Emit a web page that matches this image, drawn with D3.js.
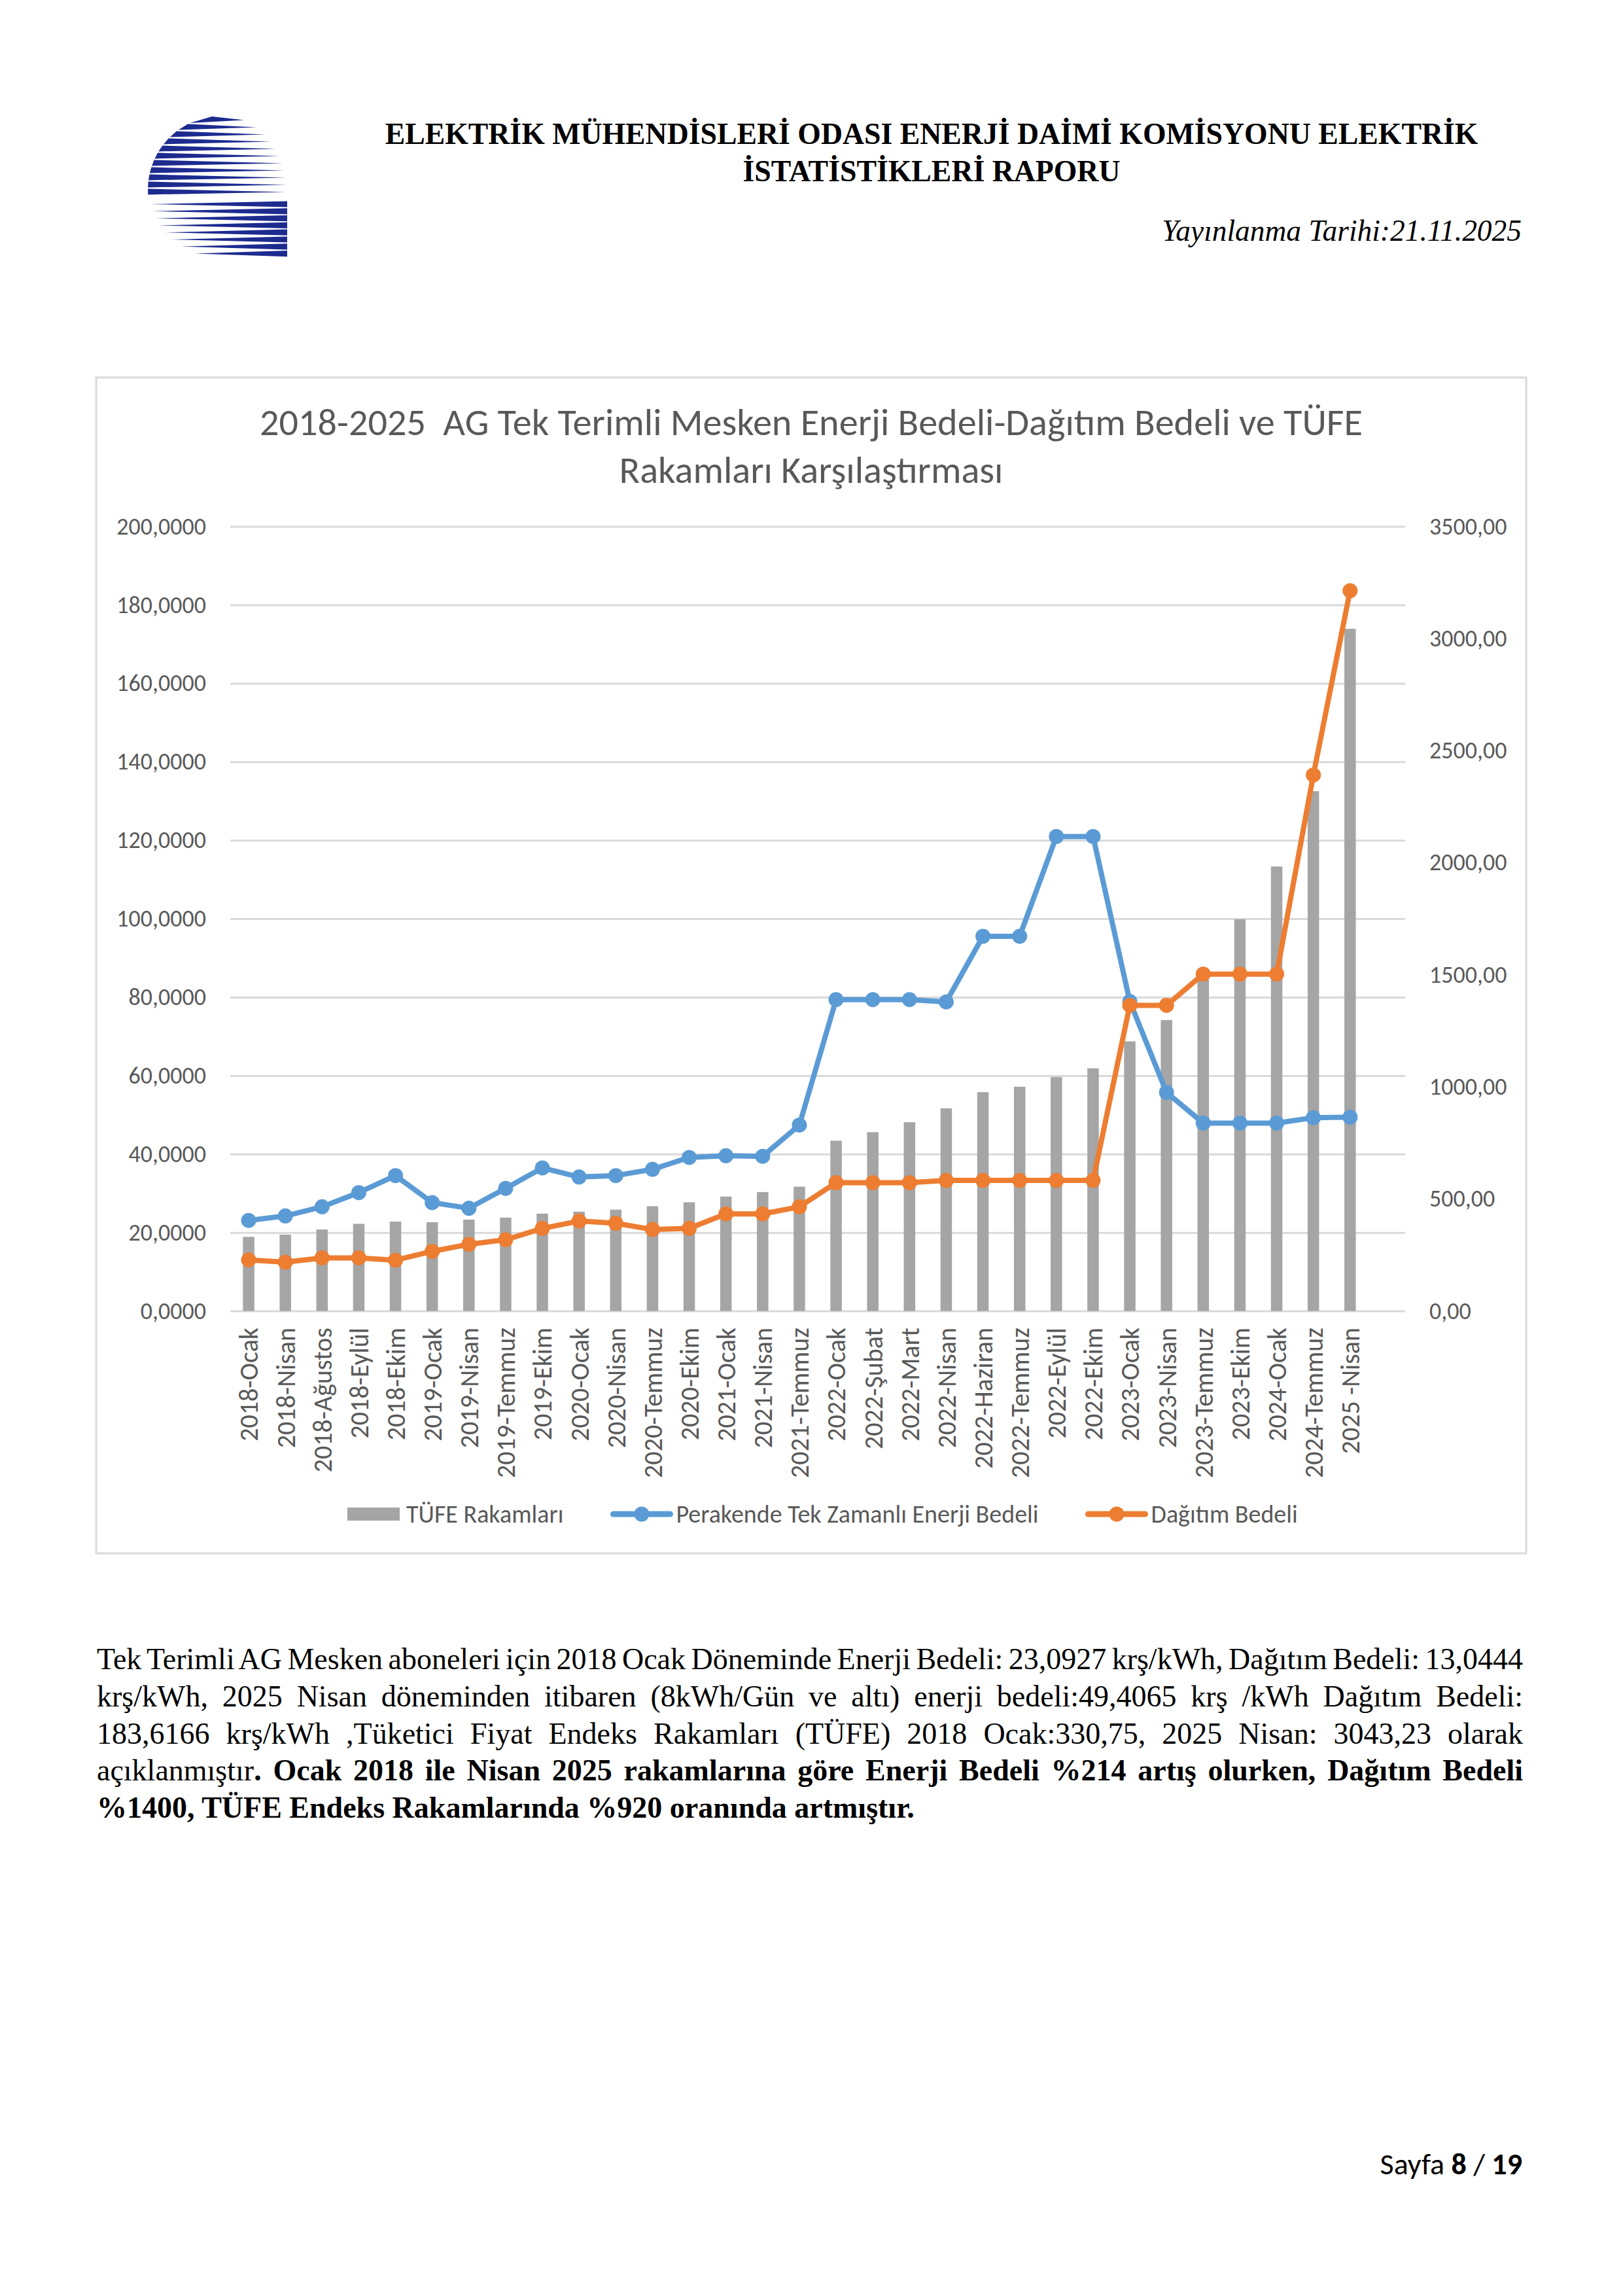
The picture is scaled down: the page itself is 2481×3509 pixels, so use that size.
<!DOCTYPE html>
<html lang="tr">
<head>
<meta charset="utf-8">
<script src="https://d3js.org/d3.v7.min.js"></script>
<style>
  body { margin: 0; background: #fff; }
</style>
</head>
<body>
<div id="page"></div>
<script>

// categories on the x axis (one per tariff period)
var categories = ["2018-Ocak","2018-Nisan","2018-Ağustos","2018-Eylül","2018-Ekim","2019-Ocak","2019-Nisan",
    "2019-Temmuz","2019-Ekim","2020-Ocak","2020-Nisan","2020-Temmuz","2020-Ekim","2021-Ocak","2021-Nisan",
    "2021-Temmuz","2022-Ocak","2022-Şubat","2022-Mart","2022-Nisan","2022-Haziran","2022-Temmuz","2022-Eylül",
    "2022-Ekim","2023-Ocak","2023-Nisan","2023-Temmuz","2023-Ekim","2024-Ocak","2024-Temmuz","2025 -Nisan"];

// TÜFE index (bars, right axis)
var tufe = [330.75, 340.6, 363.4, 388.8, 398.9, 396.3, 407.7, 416.6, 434.3, 443.2, 452.1, 467.3, 485.0,
    510.3, 530.6, 554.6, 759.8, 797.8, 842.1, 904.2, 976.3, 1000.4, 1043.4, 1082.7, 1203.0, 1298.0,
    1480.0, 1747.5, 1983.0, 2319.0, 3043.23];

// retail single-time energy price, krş/kWh (left axis)
var enerji = [23.09, 24.24, 26.56, 30.17, 34.52, 27.64, 26.19, 31.26, 36.47, 34.15, 34.52, 36.11, 39.15,
    39.58, 39.44, 47.40, 79.38, 79.38, 79.38, 78.80, 95.52, 95.52, 120.96, 120.96, 78.90, 55.72,
    47.90, 47.90, 47.90, 49.28, 49.41];

// distribution price, krş/kWh (left axis)
var dagitim = [13.04, 12.45, 13.53, 13.53, 12.95, 15.20, 17.00, 18.16, 21.06, 22.94, 22.36, 20.77, 21.06,
    24.75, 24.75, 26.56, 32.71, 32.71, 32.71, 33.29, 33.29, 33.29, 33.29, 33.29, 77.93, 77.93,
    85.89, 85.89, 85.89, 136.65, 183.62];

var leftTicks = [0, 20, 40, 60, 80, 100, 120, 140, 160, 180, 200];
var rightTicks = [0, 500, 1000, 1500, 2000, 2500, 3000, 3500];
var seriesNames = ["TÜFE Rakamları", "Perakende Tek Zamanlı Enerji Bedeli", "Dağıtım Bedeli"];
var chartTitle = ["2018-2025  AG Tek Terimli Mesken Enerji Bedeli-Dağıtım Bedeli ve TÜFE", "Rakamları Karşılaştırması"];

var headerLines = ["ELEKTRİK MÜHENDİSLERİ ODASI ENERJİ DAİMİ KOMİSYONU ELEKTRİK", "İSTATİSTİKLERİ RAPORU"];
var dateLine = "Yayınlanma Tarihi:21.11.2025";

// paragraph lines as [text, bold] pieces
var paragraph = [
    [["Tek Terimli AG Mesken aboneleri için 2018 Ocak Döneminde Enerji Bedeli: 23,0927 krş/kWh, Dağıtım Bedeli: 13,0444", 0]],
    [["krş/kWh, 2025 Nisan döneminden itibaren (8kWh/Gün ve altı) enerji bedeli:49,4065 krş /kWh Dağıtım Bedeli:", 0]],
    [["183,6166 krş/kWh ,Tüketici Fiyat Endeks Rakamları (TÜFE) 2018 Ocak:330,75, 2025 Nisan: 3043,23 olarak", 0]],
    [["açıklanmıştır", 0], [". Ocak 2018 ile Nisan 2025 rakamlarına göre Enerji Bedeli %214 artış olurken, Dağıtım Bedeli", 1]],
    [["%1400, TÜFE Endeks Rakamlarında %920 oranında artmıştır.", 1]]
];

var W = 2481, H = 3509;
var svg = d3.select("#page").append("svg")
    .attr("width", W)
    .attr("height", H)
    .style("display", "block");
svg.append("rect").attr("width", W).attr("height", H).attr("fill", "#fff");

var serif = "'Liberation Serif', 'Times New Roman', serif";

// measure a string at 100px
function measure(family, weight, style, str) {
    var t = svg.append("text")
        .style("font-family", family).style("font-weight", weight).style("font-style", style)
        .style("font-size", "100px").style("white-space", "pre").text(str);
    var w = t.node().getComputedTextLength();
    t.remove();
    return w;
}
function fitSize(family, weight, style, str, target) {
    return 100 * target / measure(family, weight, style, str);
}

// Calibri lookalike if it is there, otherwise Lato
var probe = "Rakamları 2018-Ocak";
var hasCarlito = Math.abs(measure("Carlito, monospace", 400, "normal", probe) - measure("monospace", 400, "normal", probe)) > 1;
var sans = hasCarlito ? "Carlito" : "Lato";
var k = hasCarlito ? 1 : 0.9;

// ---------------- page header ----------------
var logo = svg.append("g").attr("fill", "#1d2b8f");
var lcx = 339, lcy = 290, R = 113;
function arcX(y) { var d = y - lcy; return lcx - Math.sqrt(Math.max(0, R * R - d * d)); }
var upTips = [373, 392, 405, 413, 422, 428, 432, 435, 437, 438, 437];
upTips.forEach(function(tip, i) {
    var yc = 183 + i * 11, h = i == 0 ? 5 : 4.4;
    logo.append("path").attr("d",
        "M" + arcX(yc - h) + "," + (yc - h) + " L" + tip + "," + (yc + 0.5) +
        " L" + arcX(yc + h) + "," + (yc + h) + " Z");
});
var lowTips = [230, 233, 238, 243, 252, 263, 277, 298];
lowTips.forEach(function(tip, i) {
    var yc = 312 + i * 10.8;
    logo.append("path").attr("d",
        "M" + tip + "," + yc + " L439," + (yc - 4.6) + " L439," + (yc + 4.6) + " Z");
});

var hSize = fitSize(serif, 700, "normal", headerLines[0], 1671);
svg.append("text").attr("x", 1424).attr("y", 220).attr("text-anchor", "middle")
    .style("font-family", serif).style("font-weight", 700).style("font-size", hSize + "px")
    .text(headerLines[0]);
svg.append("text").attr("x", 1424).attr("y", 277).attr("text-anchor", "middle")
    .style("font-family", serif).style("font-weight", 700).style("font-size", hSize + "px")
    .text(headerLines[1]);

var dSize = fitSize(serif, 400, "italic", dateLine, 550);
svg.append("text").attr("x", 2326).attr("y", 368).attr("text-anchor", "end")
    .style("font-family", serif).style("font-style", "italic").style("font-size", dSize + "px")
    .text(dateLine);

// ---------------- chart ----------------
svg.append("rect")
    .attr("x", 147).attr("y", 577).attr("width", 2186).attr("height", 1797)
    .attr("fill", "#fff").attr("stroke", "#d9d9d9").attr("stroke-width", 3);

var tSize = fitSize(sans, 400, "normal", chartTitle[0], 1686);
svg.selectAll(".ctitle").data(chartTitle).enter().append("text")
    .attr("class", "ctitle")
    .attr("x", 1240)
    .attr("y", function(d, i) { return 665 + i * 73; })
    .attr("text-anchor", "middle")
    .style("font-family", sans).style("font-size", tSize + "px").style("fill", "#595959")
    .style("white-space", "pre")
    .text(function(d) { return d; });

// the source sheet has one empty row after the last period, so keep a blank slot
var x = d3.scaleBand()
    .domain(categories.concat([" "]))
    .range([352, 2148])
    .padding(0);
var yL = d3.scaleLinear().domain([0, 200]).range([2003.6, 804.6]);
var yR = d3.scaleLinear().domain([0, 3500]).range([2003.6, 804.6]);
var cxOf = function(c) { return x(c) + x.bandwidth() / 2; };

var fmtL = function(v) { return d3.format(".4f")(v).replace(".", ","); };
var fmtR = function(v) { return d3.format(".2f")(v).replace(".", ","); };
var tickSize = 36 * k;

// gridlines + left axis labels
var gl = svg.append("g")
    .attr("transform", "translate(352,0)")
    .call(d3.axisLeft(yL).tickValues(leftTicks).tickSize(-(2148 - 352)).tickFormat(fmtL).tickPadding(37));
gl.select(".domain").remove();
gl.selectAll(".tick line").attr("stroke", "#d9d9d9").attr("stroke-width", 3);
gl.selectAll(".tick text").style("font-family", sans).style("font-size", tickSize + "px").attr("fill", "#595959");

// right axis labels
var gr = svg.append("g")
    .attr("transform", "translate(2185,0)")
    .call(d3.axisRight(yR).tickValues(rightTicks).tickSize(0).tickFormat(fmtR).tickPadding(0));
gr.select(".domain").remove();
gr.selectAll(".tick text").style("font-family", sans).style("font-size", tickSize + "px").attr("fill", "#595959");

// x axis labels
var gx = svg.append("g")
    .attr("transform", "translate(0,2029)")
    .call(d3.axisBottom(x).tickValues(categories).tickSize(0).tickPadding(0));
gx.select(".domain").remove();
gx.selectAll(".tick text")
    .attr("transform", "rotate(-90)")
    .attr("x", 0).attr("y", 0).attr("dy", "0.36em")
    .style("text-anchor", "end")
    .style("font-family", sans).style("font-size", (40 * k) + "px").attr("fill", "#595959");

// TÜFE bars
var barW = 17.5;
svg.append("g").selectAll("rect")
    .data(categories)
    .enter().append("rect")
    .attr("x", function(d) { return cxOf(d) - barW / 2; })
    .attr("y", function(d, i) { return yR(tufe[i]); })
    .attr("width", barW)
    .attr("height", function(d, i) { return yR(0) - yR(tufe[i]); })
    .attr("fill", "#a5a5a5");

// line series
function drawSeries(values, color) {
    var pts = categories.map(function(c, i) { return [cxOf(c), yL(values[i])]; });
    var g = svg.append("g");
    g.append("path")
        .attr("d", d3.line()(pts))
        .attr("fill", "none")
        .attr("stroke", color)
        .attr("stroke-width", 8)
        .attr("stroke-linejoin", "round")
        .attr("stroke-linecap", "round");
    g.selectAll("circle").data(pts).enter().append("circle")
        .attr("cx", function(d) { return d[0]; })
        .attr("cy", function(d) { return d[1]; })
        .attr("r", 11.5)
        .attr("fill", color);
}
drawSeries(enerji, "#5b9bd5");
drawSeries(dagitim, "#ed7d31");

// legend
var legColors = ["#a5a5a5", "#5b9bd5", "#ed7d31"];
var legY = 2314, lx = 531;
var legSize = 38 * k;
seriesNames.forEach(function(name, i) {
    var g = svg.append("g");
    if (i == 0) {
        g.append("rect").attr("x", lx).attr("y", legY - 10).attr("width", 80).attr("height", 20).attr("fill", legColors[i]);
        lx += 90;
    } else {
        g.append("line").attr("x1", lx).attr("x2", lx + 87).attr("y1", legY).attr("y2", legY)
            .attr("stroke", legColors[i]).attr("stroke-width", 9).attr("stroke-linecap", "round");
        g.append("circle").attr("cx", lx + 43.5).attr("cy", legY).attr("r", 11.5).attr("fill", legColors[i]);
        lx += 96;
    }
    var t = g.append("text").attr("x", lx).attr("y", legY).attr("dy", "0.35em")
        .style("font-family", sans).style("font-size", legSize + "px").attr("fill", "#595959")
        .text(name);
    lx += t.node().getComputedTextLength() + 76;
});

// ---------------- paragraph ----------------
var left = 148, right = 2328, base0 = 2551, lead = 56.8;
var pSize = fitSize(serif, 700, "normal", paragraph[4][0][0], 1250);
paragraph.forEach(function(line, li) {
    var t = svg.append("text")
        .attr("x", left).attr("y", base0 + li * lead)
        .style("font-family", serif).style("font-size", pSize + "px").style("fill", "#000")
        .style("white-space", "pre");
    line.forEach(function(seg) {
        t.append("tspan").style("font-weight", seg[1] ? 700 : 400).text(seg[0]);
    });
    if (li < paragraph.length - 1) {
        var natural = t.node().getComputedTextLength();
        var spaces = line.map(function(s) { return s[0]; }).join("").split(" ").length - 1;
        t.style("word-spacing", ((right - left - natural) / spaces) + "px");
    }
});

// ---------------- footer ----------------
var fSize = 46 * k;
var foot = svg.append("text").attr("x", 2327).attr("y", 3323).attr("text-anchor", "end")
    .style("font-family", sans).style("font-size", fSize + "px").style("fill", "#000")
    .style("white-space", "pre");
foot.append("tspan").text("Sayfa ");
foot.append("tspan").style("font-weight", 700).text("8");
foot.append("tspan").text(" / ");
foot.append("tspan").style("font-weight", 700).text("19");

</script>
</body>
</html>
